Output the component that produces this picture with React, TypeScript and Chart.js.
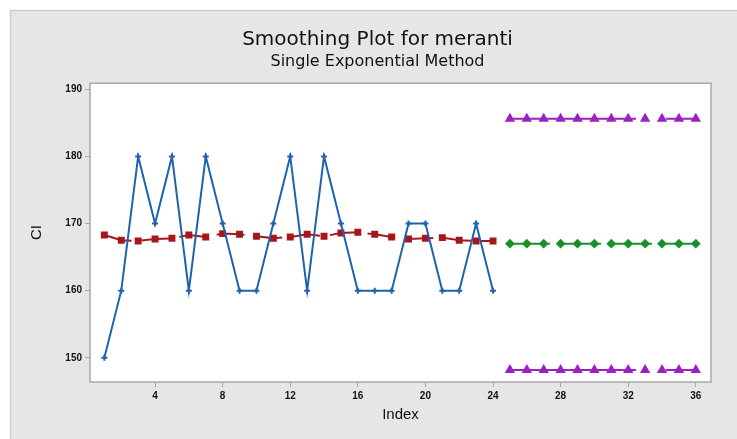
import React, { useEffect, useRef } from "react";
import { Chart, registerables } from "chart.js";

Chart.register(...registerables);

const actualIndex = [1, 2, 3, 4, 5, 6, 7, 8, 9, 10, 11, 12, 13, 14, 15, 16, 17, 18, 19, 20, 21, 22, 23, 24];
const actual = [150, 160, 180, 170, 180, 160, 180, 170, 160, 160, 170, 180, 160, 180, 170, 160, 160, 160, 170, 170, 160, 160, 170, 160];
const fits = [168.3, 167.5, 167.4, 167.7, 167.8, 168.3, 168.0, 168.5, 168.4, 168.1, 167.8, 168.0, 168.4, 168.1, 168.6, 168.7, 168.4, 168.0, 167.7, 167.8, 167.9, 167.5, 167.4, 167.4];
const forecastIndex = [25, 26, 27, 28, 29, 30, 31, 32, 33, 34, 35, 36];
const forecast = [167.0, 167.0, 167.0, 167.0, 167.0, 167.0, 167.0, 167.0, 167.0, 167.0, 167.0, 167.0];
const upperPI = [185.6, 185.6, 185.6, 185.6, 185.6, 185.6, 185.6, 185.6, 185.6, 185.6, 185.6, 185.6];
const lowerPI = [148.2, 148.2, 148.2, 148.2, 148.2, 148.2, 148.2, 148.2, 148.2, 148.2, 148.2, 148.2];
const xTicks = [4, 8, 12, 16, 20, 24, 28, 32, 36];
const yTicks = [150, 160, 170, 180, 190];

const titleText = "Smoothing Plot for meranti";
const subtitleText = "Single Exponential Method";
const xTitle = "Index";
const yTitle = "CI";

const pts = (xs: number[], ys: number[]) => xs.map((x, i) => ({ x, y: ys[i] }));

const FONT = "'Liberation Sans', Arial, sans-serif";
const TFONT = "'DejaVu Sans', sans-serif";

const bgPlugin = {
  id: "bgPlugin",
  beforeDraw(chart: any) {
    const { ctx, width, height, chartArea } = chart;
    ctx.save();
    ctx.fillStyle = "#ffffff";
    ctx.fillRect(0, 0, width, height);
    ctx.fillStyle = "#e6e6e6";
    ctx.fillRect(10, 10, width - 10, height - 10);
    ctx.strokeStyle = "#cdcdcd";
    ctx.lineWidth = 1.5;
    ctx.strokeRect(10.5, 10.5, width, height);
    ctx.fillStyle = "#ffffff";
    ctx.fillRect(chartArea.left, chartArea.top, chartArea.right - chartArea.left, chartArea.bottom - chartArea.top);
    ctx.restore();
  },
  beforeDatasetsDraw(chart: any) {
    const { ctx, chartArea } = chart;
    ctx.save();
    ctx.strokeStyle = "#a9a9a9";
    ctx.lineWidth = 1.5;
    ctx.strokeRect(chartArea.left, chartArea.top, chartArea.right - chartArea.left, chartArea.bottom - chartArea.top);
    ctx.restore();
  },
};

export default function App() {
  const ref = useRef<HTMLCanvasElement>(null);
  useEffect(() => {
    if (!ref.current) return;
    const blue = "#1f63ad";
    const red = "#a3171d";
    const green = "#18902c";
    const purple = "#9b22c0";
    const chart = new Chart(ref.current, {
      type: "line",
      data: {
        datasets: [
          {
            label: "Actual",
            data: pts(actualIndex, actual),
            borderColor: blue,
            backgroundColor: blue,
            borderWidth: 2,
            pointStyle: "cross",
            pointRadius: 3,
            pointBorderWidth: 2,
          },
          {
            label: "Fits",
            data: pts(actualIndex, fits),
            borderColor: red,
            backgroundColor: red,
            borderWidth: 2,
            borderDash: [28, 10],
            pointStyle: "rect",
            pointRadius: 3.5,
          },
          {
            label: "Forecasts",
            data: pts(forecastIndex, forecast),
            borderColor: green,
            backgroundColor: green,
            borderWidth: 2,
            borderDash: [40, 11],
            pointStyle: "rectRot",
            pointRadius: 3.5,
          },
          {
            label: "95.0% PI",
            data: pts(forecastIndex, upperPI),
            borderColor: purple,
            backgroundColor: purple,
            borderWidth: 2,
            borderDash: [126, 30],
            pointStyle: "triangle",
            pointRadius: 4,
          },
          {
            label: "95.0% PI lower",
            data: pts(forecastIndex, lowerPI),
            borderColor: purple,
            backgroundColor: purple,
            borderWidth: 2,
            borderDash: [126, 30],
            pointStyle: "triangle",
            pointRadius: 4,
          },
        ],
      },
      options: {
        responsive: false,
        animation: false,
        layout: { padding: { top: 24, left: 44, right: 26, bottom: 15 } },
        plugins: {
          legend: { display: false },
          tooltip: { enabled: false },
          title: {
            display: true,
            text: titleText,
            color: "#111111",
            font: { family: TFONT, size: 20, weight: "normal" },
            padding: { top: 4, bottom: 0 },
          },
          subtitle: {
            display: true,
            text: subtitleText,
            color: "#111111",
            font: { family: TFONT, size: 16, weight: "normal" },
            padding: { top: 0, bottom: 12 },
          },
        },
        scales: {
          x: {
            type: "linear",
            min: 0.15,
            max: 36.9,
            afterBuildTicks: (s: any) => {
              s.ticks = xTicks.map((v) => ({ value: v }));
            },
            grid: { drawOnChartArea: false, tickLength: 5, color: "#a9a9a9" },
            border: { display: false },
            ticks: { color: "#111111", font: { family: FONT, size: 10, weight: "bold" }, padding: 3, maxRotation: 0 },
            title: { display: true, text: xTitle, color: "#111111", font: { family: FONT, size: 15 }, padding: { top: 1, bottom: 0 } },
          },
          y: {
            type: "linear",
            min: 146.4,
            max: 190.9,
            afterBuildTicks: (s: any) => {
              s.ticks = yTicks.map((v) => ({ value: v }));
            },
            afterFit: (s: any) => {
              s.width = 46;
            },
            grid: { drawOnChartArea: false, tickLength: 5, color: "#a9a9a9" },
            border: { display: false },
            ticks: { color: "#111111", font: { family: FONT, size: 10, weight: "bold" }, padding: 3 },
            title: { display: true, text: yTitle, color: "#111111", font: { family: FONT, size: 15 }, padding: { top: -16, bottom: 0 } },
          },
        },
      },
      plugins: [bgPlugin],
    });
    return () => chart.destroy();
  }, []);
  return (
    <div style={{ position: "absolute", left: 0, top: 0, width: 737, height: 439 }}>
      <canvas ref={ref} width={737} height={439} style={{ display: "block" }} />
    </div>
  );
}
